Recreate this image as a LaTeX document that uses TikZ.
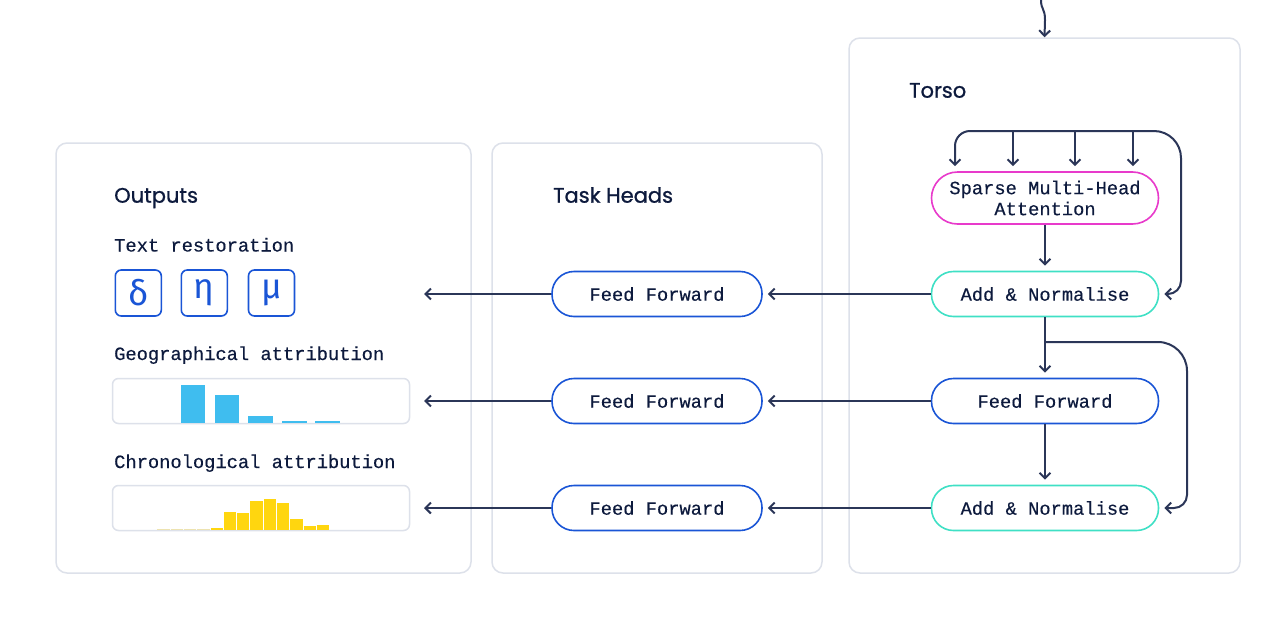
\documentclass[tikz,border=0pt]{standalone}
\usepackage{fontspec}
\setmainfont{Poppins}[FakeBold=0.8]
\newfontfamily\titlef{Poppins}[FakeBold=0.9]
\newfontfamily\monof{Liberation Mono}[FakeBold=0.35]
\newfontfamily\greekf{Fira Sans}
\usetikzlibrary{arrows.meta}
\definecolor{ink}{HTML}{0D1A3D}
\definecolor{lin}{HTML}{2B3658}
\definecolor{panelc}{HTML}{DDE1EA}
\definecolor{magc}{HTML}{E83ACB}
\definecolor{tealc}{HTML}{3FE0C5}
\definecolor{bluc}{HTML}{1A55D6}
\definecolor{skyc}{HTML}{3FBDEF}
\definecolor{yelc}{HTML}{FFD60F}
\definecolor{paleyel}{HTML}{EDE3B0}
\begin{document}
\begin{tikzpicture}[x=1pt,y=-1pt,
 panelbox/.style={draw=panelc, line width=1.5pt, rounded corners=11pt, fill=white, inner sep=0pt},
 pill/.style={draw, line width=1.6pt, rounded corners=22pt, minimum height=45pt, inner sep=0pt, text=ink, font=\monof\fontsize{18.75}{21}\selectfont, align=center},
 arr/.style={-{Straight Barb[length=5.5pt,width=11pt]}, line width=2pt, draw=lin},
 gap/.style={shorten >=5pt},
 title/.style={anchor=base west, inner sep=0pt, text=ink, font=\titlef\fontsize{21}{24}\selectfont},
 lab/.style={anchor=base west, inner sep=0pt, text=ink, font=\monof\fontsize{18.75}{21}\selectfont},
 glyph/.style={draw=bluc, line width=1.6pt, rounded corners=6pt, minimum width=46pt, minimum height=46pt, inner sep=0pt, text=bluc, font=\greekf\fontsize{35}{35}\selectfont},
 chart/.style={draw=panelc, line width=1.5pt, rounded corners=6pt, minimum width=297pt, minimum height=45pt, inner sep=0pt},
]
\useasboundingbox[fill=white] (0,0) rectangle (1268,621);

% panels
\node[panelbox, minimum width=415pt, minimum height=430pt] (outp) at (263.5,358) {};
\node[panelbox, minimum width=330pt, minimum height=430pt] (task) at (657,358) {};
\node[panelbox, minimum width=391pt, minimum height=535pt] (torso) at (1044.5,305.5) {};

% titles
\node[title] (t1) at (114,202.7) {Outputs};
\node[title] (t2) at (553,202.7) {Task Heads};
\node[title] (t3) at (909,97.7) {Torso};

% torso nodes
\node[pill, draw=magc, minimum width=227pt, minimum height=52pt, rounded corners=26pt] (mha) at (1045,198) {Sparse Multi-Head\\Attention};
\node[pill, draw=tealc, minimum width=227pt] (an1) at (1045,294) {Add \& Normalise};
\node[pill, draw=bluc, minimum width=227pt] (ff) at (1045,401) {Feed Forward};
\node[pill, draw=tealc, minimum width=227pt] (an2) at (1045,508) {Add \& Normalise};

% task heads
\node[pill, draw=bluc, minimum width=210pt] (th1) at (657,294) {Feed Forward};
\node[pill, draw=bluc, minimum width=210pt] (th2) at (657,401) {Feed Forward};
\node[pill, draw=bluc, minimum width=210pt] (th3) at (657,508) {Feed Forward};

% output labels
\node[lab] (l1) at (114,251.5) {Text restoration};
\node[lab] (l2) at (114,360) {Geographical attribution};
\node[lab] (l3) at (114,468) {Chronological attribution};

% greek boxes
\node[glyph] (g1) at (138.3,293) {δ};
\node[glyph] (g2) at (204.3,293) {η};
\node[glyph] (g3) at (271.5,293) {μ};

% charts
\node[chart] (geo) at (261,401) {};
\node[chart] (chrono) at (261,508) {};
\fill[skyc] (181,385.3) rectangle (205.3,422.5);
\fill[skyc] (215,395) rectangle (239,422.5);
\fill[skyc] (248.3,415.7) rectangle (272.7,422.5);
\fill[skyc] (281.7,421) rectangle (306.7,422.5);
\fill[skyc] (315.3,421) rectangle (340,422.5);
\foreach \t [count=\i from 0] in {528.5,528.5,528.5,528.5,527.5,512,513.3,501,499,503,519,525.7,524.7} {
  \ifnum\i<4
    \fill[paleyel] ({157.3+13.3*\i},\t) rectangle ({157.3+13.3*(\i+1)-1},529.5);
  \else
    \fill[yelc] ({157.3+13.3*\i},\t) rectangle ({157.3+13.3*(\i+1)-1},529.5);
  \fi
}

% coordinates
\coordinate (src) at (1041,0);
\coordinate (br) at (1045,342);
\coordinate (o1) at (424,294);
\coordinate (o2) at (424,401);
\coordinate (o3) at (424,508);

% connectors
\draw[arr] (src) .. controls (1041,10) and (1045,8) .. (1045,20) -- (torso.north);
\draw[arr, {Straight Barb[length=5.5pt,width=11pt]}-{Straight Barb[length=5.5pt,width=11pt]}, shorten <=5pt, shorten >=5pt, rounded corners=15pt]
  (955,0 |- mha.north) |- (1000,131) [rounded corners=27pt] -| (1181,250) [rounded corners=13pt] |- (an1.east);
\foreach \xx in {1013,1075,1133} {
  \draw[arr,gap] (\xx,131) -- (\xx,0 |- mha.north);
}
\draw[arr,gap] (mha) -- (an1);
\draw[arr,gap] (an1) -- (ff);
\draw[arr,gap] (ff) -- (an2);
\draw[arr,gap,rounded corners=29pt] (br) -| (1187,450) [rounded corners=13pt] |- (an2.east);

\draw[arr,gap] (an1) -- (th1);
\draw[arr,gap] (ff) -- (th2);
\draw[arr,gap] (an2) -- (th3);
\draw[arr] (th1) -- (o1);
\draw[arr] (th2) -- (o2);
\draw[arr] (th3) -- (o3);
\end{tikzpicture}
\end{document}
